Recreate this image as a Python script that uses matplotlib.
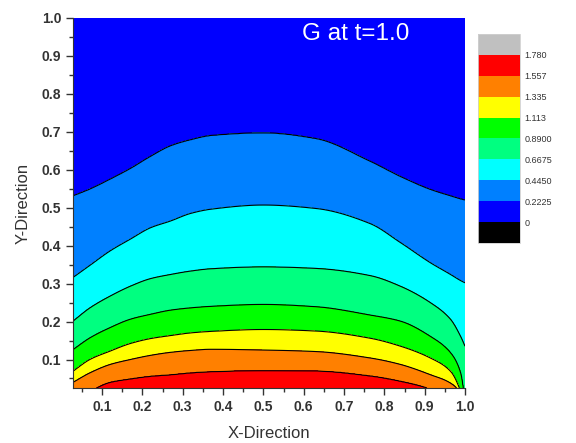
import numpy as np
import matplotlib
matplotlib.use('Agg')
import matplotlib.pyplot as plt
from matplotlib.colors import ListedColormap, BoundaryNorm

plt.rcParams['font.family'] = ['Liberation Sans', 'DejaVu Sans']

# contour levels and colours (Origin style)
levels = [0, 0.2225, 0.445, 0.6675, 0.89, 1.113, 1.335, 1.557, 1.78]
level_labels = ['0', '0.2225', '0.4450', '0.6675', '0.8900', '1.113', '1.335', '1.557', '1.780']
band_colors = ['#0000FF', '#0080FF', '#00FFFF', '#00FF80', '#00FF00',
               '#FFFF00', '#FF8000', '#FF0000']
under_color = '#000000'
over_color = '#C0C0C0'

x_cols = [0.028, 0.07, 0.12, 0.17, 0.22, 0.27, 0.32, 0.37, 0.5, 0.63, 0.765, 0.84, 0.914, 0.964, 0.989, 1.0]

# height (y) of each contour line at x_cols (values below 0.025 = line has left the plot)
y_0222 = [0.531, 0.549, 0.575, 0.603, 0.635, 0.663, 0.679, 0.690, 0.697, 0.682, 0.622, 0.582, 0.548, 0.531, 0.523, 0.520]
y_0445 = [0.316, 0.348, 0.386, 0.417, 0.447, 0.465, 0.485, 0.496, 0.507, 0.498, 0.458, 0.408, 0.355, 0.324, 0.308, 0.302]
y_0668 = [0.201, 0.236, 0.267, 0.293, 0.313, 0.324, 0.333, 0.339, 0.344, 0.340, 0.321, 0.293, 0.250, 0.206, 0.161, 0.135]
y_0890 = [0.126, 0.157, 0.184, 0.206, 0.219, 0.230, 0.236, 0.240, 0.245, 0.239, 0.217, 0.201, 0.161, 0.118, 0.065, -0.010]
y_1113 = [0.069, 0.100, 0.122, 0.142, 0.155, 0.163, 0.170, 0.174, 0.179, 0.175, 0.156, 0.135, 0.104, 0.069, 0.015, -0.030]
y_1335 = [0.040, 0.065, 0.087, 0.100, 0.111, 0.119, 0.124, 0.127, 0.125, 0.121, 0.104, 0.087, 0.060, 0.038, 0.010, -0.050]
y_1557 = [-0.010, 0.016, 0.040, 0.049, 0.056, 0.060, 0.065, 0.068, 0.071, 0.070, 0.057, 0.043, 0.022, -0.010, -0.040, -0.060]

g_low = 1.75   # value well below the plot bottom (y = -0.1)
g_top = 0.10   # value along the top edge

y_min, y_max = 0.025, 1.0
x_min, x_max = 0.028, 1.0


def pchip(x, xp, fp):
    # monotone cubic (Fritsch-Carlson) so the lines come out smooth
    xp = np.asarray(xp, float)
    fp = np.asarray(fp, float)
    h = np.diff(xp)
    d = np.diff(fp) / h
    m = np.zeros_like(fp)
    for i in range(1, len(fp) - 1):
        if d[i - 1] * d[i] > 0:
            w1 = 2 * h[i] + h[i - 1]
            w2 = h[i] + 2 * h[i - 1]
            m[i] = (w1 + w2) / (w1 / d[i - 1] + w2 / d[i])
    m[0], m[-1] = d[0], d[-1]
    i = np.clip(np.searchsorted(xp, x) - 1, 0, len(h) - 1)
    t = (x - xp[i]) / h[i]
    h00 = 2 * t**3 - 3 * t**2 + 1
    h10 = t**3 - 2 * t**2 + t
    h01 = -2 * t**3 + 3 * t**2
    h11 = t**3 - t**2
    return h00 * fp[i] + h10 * h[i] * m[i] + h01 * fp[i + 1] + h11 * h[i] * m[i + 1]


# build the field from the read contour heights
line_heights = [y_0222, y_0445, y_0668, y_0890, y_1113, y_1335, y_1557]
xs = np.linspace(x_min, x_max, 500)
ys = np.linspace(y_min, y_max, 500)
H = np.array([pchip(xs, x_cols, lh) for lh in line_heights])
for k in range(1, len(H)):
    H[k] = np.minimum(H[k], H[k - 1] - 1e-4)

G = np.zeros((len(ys), len(xs)))
for j in range(len(xs)):
    yp = [-0.1] + list(H[::-1, j]) + [y_max]
    gp = [g_low] + levels[1:-1][::-1] + [g_top]
    G[:, j] = np.interp(ys, yp, gp)

X, Y = np.meshgrid(xs, ys)

cmap = ListedColormap(band_colors)
cmap.set_under(under_color)
cmap.set_over(over_color)
norm = BoundaryNorm(levels, cmap.N)

fig = plt.figure(figsize=(5.76, 4.43), dpi=100)
ax = fig.add_axes([0.1267, 0.1242, 0.6806, 0.8352])

cf = ax.contourf(X, Y, G, levels=levels, cmap=cmap, norm=norm, extend='both')
ax.contour(X, Y, G, levels=levels[1:-1], colors='k', linewidths=0.8)

ax.set_xlim(x_min, x_max)
ax.set_ylim(y_min, y_max)
ax.set_xticks(np.arange(0.1, 1.01, 0.1))
ax.set_yticks(np.arange(0.1, 1.01, 0.1))
ax.set_xticks(np.arange(0.05, 1.0, 0.1), minor=True)
ax.set_yticks(np.arange(0.05, 1.0, 0.1), minor=True)
ax.xaxis.set_major_formatter(plt.FormatStrFormatter('%.1f'))
ax.yaxis.set_major_formatter(plt.FormatStrFormatter('%.1f'))
ax.tick_params(which='major', direction='out', length=5, width=1, labelsize=10,
               labelcolor='#333333', color='#333333')
ax.tick_params(which='minor', direction='out', length=3, width=1, color='#333333')
for lab in ax.get_xticklabels() + ax.get_yticklabels():
    lab.set_fontweight('bold')
ax.spines['top'].set_visible(False)
ax.spines['right'].set_visible(False)
ax.spines['left'].set_color('#333333')
ax.spines['bottom'].set_color('#333333')

ax.set_xlabel('X-Direction', fontsize=12, color='#333333', labelpad=9)
ax.set_ylabel('Y-Direction', fontsize=12, color='#333333', labelpad=8)
ax.text(0.585, 0.958, 'G at t=1.0', transform=ax.transAxes, color='white',
        fontsize=17.5, ha='left', va='center')

cax = fig.add_axes([0.83, 0.4515, 0.073, 0.4718])
cb = fig.colorbar(cf, cax=cax, extendrect=True, extendfrac=0.125, ticks=levels)
cb.ax.set_yticklabels(level_labels)
cb.ax.tick_params(length=0, labelsize=6.5, pad=3, labelcolor='#333333')
cb.outline.set_edgecolor('#d0d0d0')
cb.outline.set_linewidth(0.6)

fig.savefig('out.png', dpi=100)
